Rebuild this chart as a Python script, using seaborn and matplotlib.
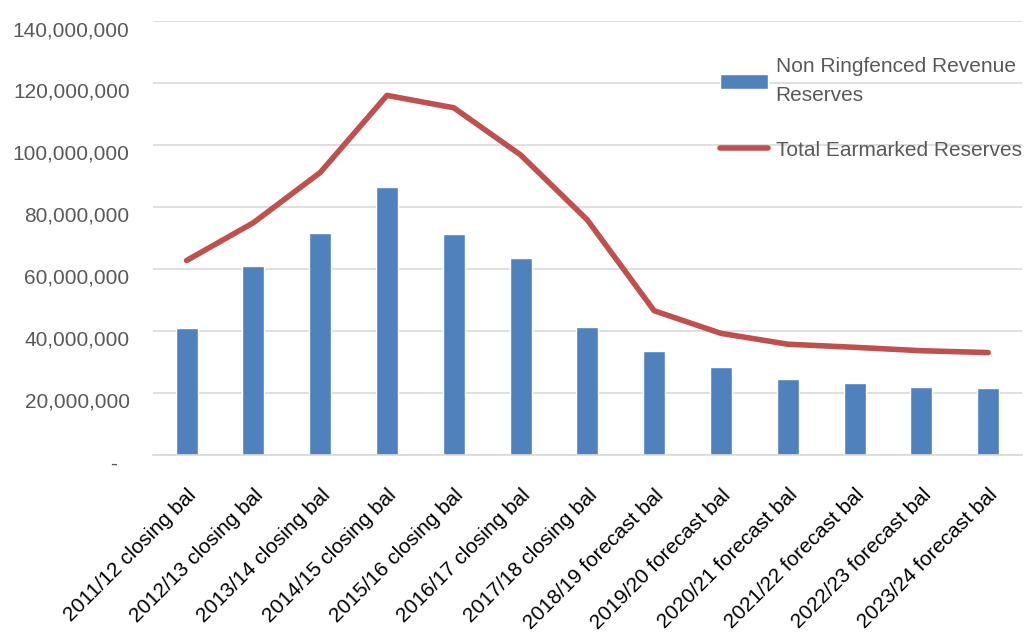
import matplotlib
matplotlib.use("Agg")
import matplotlib.pyplot as plt
import matplotlib.ticker as mticker
import seaborn as sns
import pandas as pd

# values
periods = ["2011/12 closing bal", "2012/13 closing bal", "2013/14 closing bal",
           "2014/15 closing bal", "2015/16 closing bal", "2016/17 closing bal",
           "2017/18 closing bal", "2018/19 forecast bal", "2019/20 forecast bal",
           "2020/21 forecast bal", "2021/22 forecast bal", "2022/23 forecast bal",
           "2023/24 forecast bal"]
non_ringfenced = [41.0e6, 61.0e6, 71.6e6, 86.5e6, 71.3e6, 63.5e6, 41.3e6,
                  33.5e6, 28.4e6, 24.5e6, 23.2e6, 21.9e6, 21.6e6]
total_earmarked = [62.7e6, 74.9e6, 91.1e6, 116.0e6, 112.0e6, 96.8e6, 75.8e6,
                   46.5e6, 39.2e6, 35.7e6, 34.7e6, 33.6e6, 33.0e6]
y_ticks = [0, 20e6, 40e6, 60e6, 80e6, 100e6, 120e6, 140e6]

df = pd.DataFrame({"period": periods, "bars": non_ringfenced, "line": total_earmarked})

sns.set_style("white")
plt.rcParams["font.family"] = ["Liberation Sans", "DejaVu Sans"]

fig = plt.figure(figsize=(10.35, 6.37), dpi=100)
ax = fig.add_axes([0.148, 0.286, 0.839, 0.681])

sns.barplot(data=df, x="period", y="bars", color="#4F81BD", width=0.33,
            saturation=1, ax=ax, label="Non Ringfenced Revenue\nReserves", zorder=2)
sns.lineplot(data=df, x="period", y="line", color="#C0504D", linewidth=4,
             ax=ax, label="Total Earmarked Reserves", zorder=3,
             solid_capstyle="round", solid_joinstyle="round")

ax.set_ylim(0, 140e6)
ax.set_xlim(-0.5, len(periods) - 0.5)
ax.set_yticks(y_ticks)
ax.yaxis.set_major_formatter(mticker.FuncFormatter(
    lambda v, p: "-  " if v == 0 else f"{v:,.0f}"))
ax.grid(axis="y", color="#D9D9D9", linewidth=1.2, zorder=0)
ax.set_axisbelow(True)
for s in ["top", "right", "left"]:
    ax.spines[s].set_visible(False)
ax.spines["bottom"].set_color("#D9D9D9")
ax.spines["bottom"].set_linewidth(1.2)
ax.set_xlabel("")
ax.set_ylabel("")
ax.tick_params(axis="y", length=0, pad=17, labelsize=15, labelcolor="#595959")
ax.tick_params(axis="x", length=0, pad=22, labelsize=15, labelcolor="black")
plt.setp(ax.get_xticklabels(), rotation=45, ha="right", rotation_mode="anchor")
for t in ax.get_yticklabels():
    t.set_va("top")

ax.get_legend().remove()
h, l = ax.get_legend_handles_labels()
leg = fig.legend(h[::-1], l[::-1], loc="upper left", bbox_to_anchor=(0.678, 0.94),
                 frameon=False, fontsize=15, labelcolor="#595959", handlelength=2.3,
                 handleheight=0.8, handletextpad=0.35, labelspacing=1.7)
for t in leg.get_texts():
    t.set_linespacing(1.7)

fig.savefig("out.png", dpi=100)
